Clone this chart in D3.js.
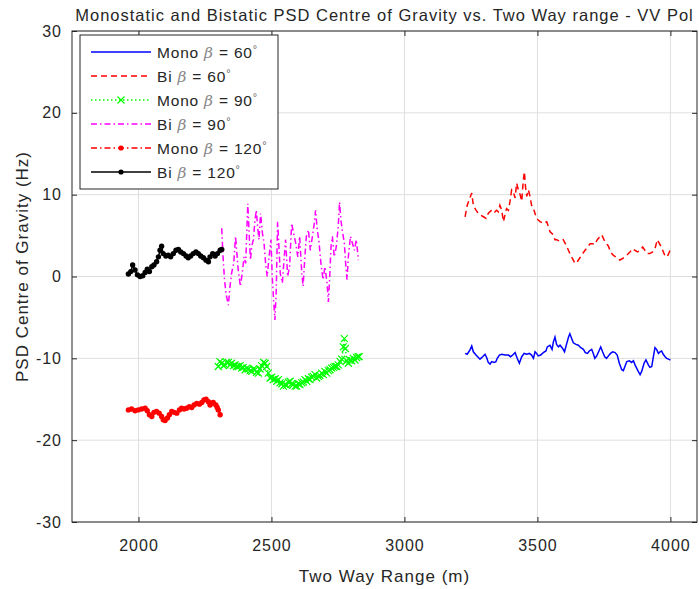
<!DOCTYPE html>
<html>
<head>
<meta charset="utf-8">
<script src="https://cdn.jsdelivr.net/npm/d3@7.9.0/dist/d3.min.js"></script>
<style>
  html, body { margin: 0; padding: 0; background: #fff; }
  svg text { font-family: "Liberation Sans", Arial, sans-serif; fill: #262626; }
</style>
</head>
<body>
<svg id="chart" width="699" height="589"></svg>
<script>
// Mono beta = 60
const mono60X = [3228,3236,3246,3253,3259,3269,3278,3284,3294,3303,3309,3315,3322,3328,3337,3344,3349,3357,3366,3378,3391,3399,3407,3416,3424,3432,3441,3450,3460,3470,3478,3485,3491,3497,3503,3512,3522,3532,3537,3547,3555,3560,3566,3572,3579,3585,3595,3602,3610,3617,3622,3629,3635,3645,3654,3663,3673,3680,3688,3695,3704,3710,3716,3723,3730,3738,3745,3753,3760,3767,3775,3783,3792,3800,3808,3817,3823,3829,3836,3846,3854,3861,3867,3873,3879,3886,3892,3901,3908,3917,3923,3930,3936,3942,3948,3955,3961,3967,3973,3980,3986,3993,4000];
const mono60Y = [-9.4,-9.5,-9.0,-8.5,-9.2,-9.6,-9.9,-10.1,-9.8,-9.5,-9.9,-10.5,-10.7,-10.4,-10.5,-10.4,-10.0,-9.6,-9.5,-9.6,-9.6,-9.8,-9.6,-9.3,-10.0,-10.6,-9.8,-9.4,-9.5,-9.4,-9.6,-10.0,-9.2,-9.4,-9.7,-9.6,-9.3,-9.1,-8.6,-8.4,-8.9,-8.0,-7.4,-8.3,-8.6,-8.4,-8.8,-9.2,-8.2,-7.4,-7.0,-7.6,-8.1,-8.3,-8.4,-8.7,-8.9,-9.3,-9.4,-9.1,-8.9,-9.4,-10.0,-9.7,-9.2,-8.6,-9.2,-9.8,-10.0,-9.7,-9.4,-9.2,-9.3,-9.6,-10.6,-11.4,-11.5,-11.0,-10.4,-10.3,-10.5,-10.3,-10.8,-11.2,-11.6,-12.0,-11.6,-10.6,-10.2,-10.8,-11.1,-11.0,-9.8,-8.7,-8.9,-9.4,-9.2,-9.1,-9.5,-9.8,-10.0,-10.1,-10.2];

// Bi beta = 60
const bi60X = [3228,3236,3246,3253,3259,3269,3278,3287,3297,3307,3315,3324,3332,3340,3347,3353,3359,3366,3372,3378,3384,3391,3397,3403,3409,3416,3422,3428,3435,3441,3447,3451,3455,3460,3466,3472,3478,3485,3491,3497,3503,3510,3522,3535,3547,3560,3566,3572,3585,3597,3610,3622,3635,3641,3648,3658,3666,3679,3691,3698,3708,3716,3725,3733,3742,3750,3760,3767,3775,3785,3798,3810,3820,3829,3842,3848,3858,3867,3876,3886,3896,3904,3913,3923,3933,3942,3951,3961,3971,3980,3988,3996,4000];
const bi60Y = [7.3,8.7,9.6,10.2,8.7,8.1,7.7,7.5,7.3,7.1,7.7,8.0,8.2,7.9,8.1,7.9,8.7,8.1,6.7,7.5,8.3,8.1,9.2,10.6,10.4,9.6,11.4,10.6,10.0,9.2,11.8,12.8,11.0,9.8,10.6,9.8,8.7,8.3,7.7,7.1,6.9,6.7,6.5,6.7,5.5,5.1,4.5,4.5,4.3,4.5,3.7,2.8,2.0,1.6,1.7,2.2,2.6,3.2,3.7,4.0,4.0,3.9,4.5,4.8,5.1,4.5,4.0,3.7,3.0,2.6,2.3,2.0,2.2,2.4,2.8,3.0,3.4,3.2,3.0,3.2,3.6,3.2,2.8,2.8,3.0,3.4,4.5,3.9,3.2,2.5,2.4,3.0,3.4];

// Mono beta = 90
const mono90X = [2300,2306,2313,2319,2325,2331,2338,2344,2350,2357,2363,2369,2375,2382,2388,2394,2401,2407,2413,2420,2426,2432,2438,2444,2451,2457,2463,2470,2476,2482,2488,2495,2501,2507,2514,2520,2526,2532,2539,2545,2551,2557,2564,2570,2576,2582,2589,2595,2601,2607,2614,2620,2626,2632,2639,2645,2651,2657,2664,2670,2676,2682,2689,2695,2701,2708,2714,2720,2726,2733,2739,2745,2751,2758,2764,2770,2774,2778,2783,2789,2795,2801,2808,2814,2820,2826,2830];
const mono90Y = [-11.0,-10.4,-10.6,-10.9,-10.8,-10.5,-10.5,-10.8,-10.6,-10.9,-10.8,-11.0,-11.0,-10.9,-11.2,-11.1,-11.4,-11.2,-11.3,-11.5,-11.6,-11.3,-11.4,-11.7,-11.8,-11.3,-10.9,-10.5,-10.6,-11.0,-11.8,-12.4,-12.3,-12.6,-12.5,-12.8,-12.6,-13.0,-13.1,-13.4,-13.2,-13.3,-12.9,-12.8,-13.1,-13.2,-13.4,-13.4,-13.1,-13.2,-13.0,-12.9,-12.6,-12.8,-12.5,-12.6,-12.3,-12.2,-12.0,-12.4,-12.2,-12.1,-11.8,-12.0,-11.6,-11.8,-11.5,-11.4,-11.2,-11.1,-11.0,-11.0,-10.8,-10.4,-10.1,-8.6,-7.6,-8.8,-10.3,-10.6,-10.2,-10.3,-10.0,-10.2,-9.9,-9.8,-9.8];

// Bi beta = 90
const bi90X = [2313,2318,2323,2329,2338,2344,2350,2358,2365,2370,2375,2383,2390,2397,2403,2411,2416,2421,2426,2432,2438,2443,2448,2453,2459,2466,2472,2478,2484,2491,2498,2503,2508,2513,2518,2523,2528,2533,2541,2548,2553,2561,2568,2576,2583,2591,2599,2606,2614,2619,2624,2631,2639,2646,2654,2661,2666,2671,2679,2686,2694,2701,2709,2714,2719,2724,2729,2736,2744,2751,2756,2761,2766,2774,2779,2784,2789,2797,2804,2812,2819,2827];
const bi90Y = [5.9,2.4,-0.2,-2.1,-3.5,-1.2,0.4,1.6,4.9,2.8,0.8,-1.2,0.4,2.4,1.6,8.9,5.3,2.0,3.7,4.5,6.9,8.1,6.1,4.5,7.7,5.3,4.1,1.6,0.0,2.4,4.5,0.0,-2.9,-5.3,-1.7,6.7,3.7,0.4,-0.8,2.4,4.5,0.0,1.2,6.5,5.3,4.1,2.4,4.9,0.4,-1.2,1.6,4.9,5.7,3.2,4.9,6.5,8.1,6.1,4.1,1.6,-0.4,1.2,-0.8,-3.1,0.0,3.7,4.9,2.4,3.7,6.1,9.1,6.9,5.7,4.1,1.6,-0.4,2.4,4.9,4.1,3.2,4.5,2.0];

// Mono beta = 120
const mono120X = [1962,1974,1987,1999,2012,2025,2033,2041,2050,2058,2068,2078,2087,2093,2100,2109,2116,2125,2134,2144,2154,2162,2171,2181,2191,2200,2209,2219,2229,2238,2246,2254,2263,2269,2275,2281,2291,2296,2300,2307];
const mono120Y = [-16.3,-16.2,-16.4,-16.3,-16.2,-16.1,-16.4,-16.9,-17.1,-16.6,-16.5,-16.7,-17.1,-17.5,-17.6,-17.3,-16.9,-16.5,-16.6,-16.7,-16.3,-16.1,-16.2,-16.1,-15.9,-16.0,-15.7,-15.5,-15.6,-15.4,-15.1,-15.0,-15.3,-15.7,-15.5,-15.4,-15.7,-16.0,-16.3,-16.9];

// Bi beta = 120
const bi120X = [1962,1971,1978,1987,1996,2006,2016,2025,2033,2041,2050,2058,2068,2075,2081,2087,2093,2103,2112,2121,2131,2141,2150,2159,2169,2179,2187,2196,2206,2216,2225,2234,2244,2254,2263,2269,2279,2288,2297,2307,2313];
const bi120Y = [0.3,0.6,1.4,0.8,0.2,0.0,0.1,0.5,0.9,0.6,1.2,1.4,1.8,2.4,3.2,3.7,2.8,2.5,2.6,2.4,2.8,3.2,3.3,3.0,2.8,2.5,2.3,2.5,2.8,3.0,2.8,2.5,2.3,2.0,1.8,2.4,2.8,2.5,2.8,3.2,3.3];

const xTicks = [2000, 2500, 3000, 3500, 4000];
const yTicks = [-30, -20, -10, 0, 10, 20, 30];

const series = [
  { label: 'Mono', beta: '60', xs: mono60X, ys: mono60Y, color: '#0000ff', dash: null, marker: null },
  { label: 'Bi', beta: '60', xs: bi60X, ys: bi60Y, color: '#ff0000', dash: '6,4', marker: null },
  { label: 'Mono', beta: '90', xs: mono90X, ys: mono90Y, color: '#00ff00', dash: '1.5,2.5', marker: 'x' },
  { label: 'Bi', beta: '90', xs: bi90X, ys: bi90Y, color: '#ff00ff', dash: '6,3,1.5,3', marker: null },
  { label: 'Mono', beta: '120', xs: mono120X, ys: mono120Y, color: '#ff0000', dash: '6,3,1.5,3', marker: 'dot' },
  { label: 'Bi', beta: '120', xs: bi120X, ys: bi120Y, color: '#000000', dash: null, marker: 'dot' }
];

const plotL = 72, plotR = 697, plotT = 31, plotB = 522;
const svg = d3.select('#chart');

const x = d3.scaleLinear().domain([1750, 4100]).range([plotL, plotR]);
const y = d3.scaleLinear().domain([-30, 30]).range([plotB, plotT]);

// grid
svg.append('g').selectAll('line')
  .data(xTicks).join('line')
  .attr('x1', d => x(d)).attr('x2', d => x(d))
  .attr('y1', plotT).attr('y2', plotB)
  .attr('stroke', '#dfdfdf').attr('stroke-width', 1);
svg.append('g').selectAll('line')
  .data(yTicks).join('line')
  .attr('x1', plotL).attr('x2', plotR)
  .attr('y1', d => y(d)).attr('y2', d => y(d))
  .attr('stroke', '#dfdfdf').attr('stroke-width', 1);

// data
const plot = svg.append('g');
series.forEach(s => {
  const pts = s.xs.map((v, i) => [v, s.ys[i]]);
  const line = d3.line().x(d => x(d[0])).y(d => y(d[1]));
  plot.append('path')
    .attr('d', line(pts))
    .attr('fill', 'none')
    .attr('stroke', s.color)
    .attr('stroke-width', 1.5)
    .attr('stroke-dasharray', s.dash);
  if (s.marker === 'dot') {
    plot.append('g').selectAll('circle')
      .data(pts).join('circle')
      .attr('cx', d => x(d[0])).attr('cy', d => y(d[1]))
      .attr('r', 2.7).attr('fill', s.color);
  } else if (s.marker === 'x') {
    plot.append('g').selectAll('path')
      .data(pts).join('path')
      .attr('d', d => {
        const cx = x(d[0]), cy = y(d[1]), r = 3.5;
        return `M${cx - r},${cy - r}L${cx + r},${cy + r}M${cx - r},${cy + r}L${cx + r},${cy - r}`;
      })
      .attr('stroke', s.color).attr('stroke-width', 1.2);
  }
});

// axes
const fmt = d => String(d);
const xAxis = d3.axisBottom(x).tickValues(xTicks).tickSize(-5).tickPadding(18).tickFormat(fmt);
const yAxis = d3.axisLeft(y).tickValues(yTicks).tickSize(-5).tickPadding(10).tickFormat(fmt);
const gx = svg.append('g').attr('transform', `translate(0,${plotB})`).call(xAxis);
const gy = svg.append('g').attr('transform', `translate(${plotL},0)`).call(yAxis);
[gx, gy].forEach(g => {
  g.select('.domain').remove();
  g.selectAll('line').attr('stroke', '#262626');
  g.selectAll('text').attr('font-size', 16).attr('fill', '#262626')
    .attr('letter-spacing', 1)
    .attr('font-family', '"Liberation Sans", Arial, sans-serif');
});
svg.append('g').attr('transform', `translate(0,${plotT})`)
  .call(d3.axisTop(x).tickValues(xTicks).tickSize(-5).tickFormat(''))
  .call(g => g.select('.domain').remove())
  .selectAll('line').attr('stroke', '#262626');
svg.append('g').attr('transform', `translate(${plotR},0)`)
  .call(d3.axisRight(y).tickValues(yTicks).tickSize(-5).tickFormat(''))
  .call(g => g.select('.domain').remove())
  .selectAll('line').attr('stroke', '#262626');

svg.append('rect')
  .attr('x', plotL).attr('y', plotT)
  .attr('width', plotR - plotL).attr('height', plotB - plotT)
  .attr('fill', 'none').attr('stroke', '#262626').attr('stroke-width', 1);

// titles
svg.append('text')
  .attr('x', (plotL + plotR) / 2).attr('y', 21)
  .attr('text-anchor', 'middle').attr('font-size', 16.5).attr('letter-spacing', 1)
  .text('Monostatic and Bistatic PSD Centre of Gravity vs. Two Way range - VV Pol');
svg.append('text')
  .attr('x', (plotL + plotR) / 2).attr('y', 582)
  .attr('text-anchor', 'middle').attr('font-size', 17).attr('letter-spacing', 1)
  .text('Two Way Range (m)');
svg.append('text')
  .attr('transform', `translate(28,${(plotT + plotB) / 2 - 10}) rotate(-90)`)
  .attr('text-anchor', 'middle').attr('font-size', 17).attr('letter-spacing', 1)
  .text('PSD Centre of Gravity (Hz)');

// legend
const lg = svg.append('g');
lg.append('rect')
  .attr('x', 80).attr('y', 35).attr('width', 198).attr('height', 154)
  .attr('fill', '#fff').attr('stroke', '#262626').attr('stroke-width', 1);
series.forEach((s, i) => {
  const ly = 52 + i * 24;
  lg.append('line')
    .attr('x1', 91).attr('x2', 151).attr('y1', ly).attr('y2', ly)
    .attr('stroke', s.color).attr('stroke-width', 1.5)
    .attr('stroke-dasharray', s.dash);
  if (s.marker === 'dot') {
    lg.append('circle').attr('cx', 121).attr('cy', ly).attr('r', 2.6).attr('fill', s.color);
  } else if (s.marker === 'x') {
    lg.append('path')
      .attr('d', `M117.5,${ly - 3.5}L124.5,${ly + 3.5}M117.5,${ly + 3.5}L124.5,${ly - 3.5}`)
      .attr('stroke', s.color).attr('stroke-width', 1.2);
  }
  const t = lg.append('text').attr('x', 157).attr('y', ly + 5.5)
    .attr('font-size', 15.5).attr('letter-spacing', 0.8);
  t.append('tspan').text(s.label + ' ');
  t.append('tspan').attr('font-style', 'italic').attr('fill', '#888')
    .attr('font-family', '"DejaVu Serif", serif').text('β');
  t.append('tspan').text(' = ' + s.beta);
  t.append('tspan').attr('font-size', 11).attr('dy', -5).attr('fill', '#666').text('°');
});
</script>
</body>
</html>
